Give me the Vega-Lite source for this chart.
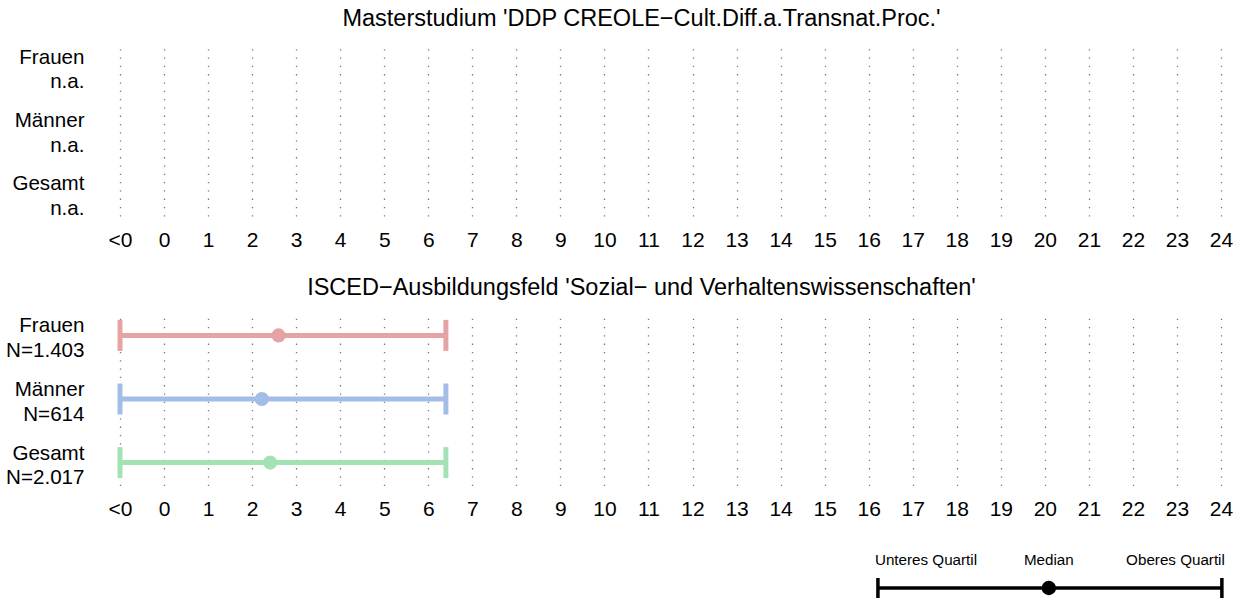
{
  "$schema": "https://vega.github.io/schema/vega-lite/v6.json",
  "background": "white",
  "padding": {"left": 5, "top": 7, "right": 0, "bottom": 0},
  "autosize": {"type": "pad"},
  "spacing": 25.5,
  "config": {
    "font": "Liberation Sans",
    "view": {"stroke": null},
    "title": {"fontSize": 23.5, "fontWeight": "normal", "color": "black", "anchor": "middle", "offset": 13.5, "dx": -29},
    "axisX": {
      "values": [-1, 0, 1, 2, 3, 4, 5, 6, 7, 8, 9, 10, 11, 12, 13, 14, 15, 16, 17, 18, 19, 20, 21, 22, 23, 24],
      "labelExpr": "datum.value < 0 ? '<0' : datum.label",
      "grid": true,
      "gridDash": [1.3, 7],
      "gridColor": "#777777",
      "gridWidth": 1.3,
      "domain": false,
      "ticks": false,
      "labelFontSize": 21,
      "labelColor": "black",
      "labelPadding": 13,
      "labelFlush": false,
      "labelOverlap": false,
      "title": null
    },
    "axisY": {
      "grid": false,
      "domain": false,
      "ticks": false,
      "labelFontSize": 20.6,
      "labelColor": "black",
      "labelPadding": 36,
      "labelLineHeight": 24.5,
      "labelOffset": -9.5,
      "labelExpr": "split(datum.label, '|')",
      "minExtent": 115,
      "maxExtent": 115,
      "title": null
    }
  },
  "datasets": {
    "rows": [
      {"panel": "master", "group": "Frauen", "ylabel": "Frauen|n.a.", "q1": null, "median": null, "q3": null},
      {"panel": "master", "group": "Männer", "ylabel": "Männer|n.a.", "q1": null, "median": null, "q3": null},
      {"panel": "master", "group": "Gesamt", "ylabel": "Gesamt|n.a.", "q1": null, "median": null, "q3": null},
      {"panel": "isced", "group": "Frauen", "ylabel": "Frauen|N=1.403", "q1": -1, "median": 2.6, "q3": 6.4},
      {"panel": "isced", "group": "Männer", "ylabel": "Männer|N=614", "q1": -1, "median": 2.22, "q3": 6.4},
      {"panel": "isced", "group": "Gesamt", "ylabel": "Gesamt|N=2.017", "q1": -1, "median": 2.41, "q3": 6.4}
    ],
    "legend": [
      {"lo": 16.21, "med": 20.09, "hi": 24.02, "lo_text": "Unteres Quartil", "med_text": "Median", "hi_text": "Oberes Quartil"}
    ]
  },
  "vconcat": [
    {
      "title": "Masterstudium 'DDP CREOLE−Cult.Diff.a.Transnat.Proc.'",
      "width": 1101,
      "height": 172,
      "data": {"name": "rows"},
      "transform": [{"filter": "datum.panel == 'master'"}],
      "encoding": {
        "y": {"field": "ylabel", "type": "nominal", "scale": {"type": "point", "padding": 0.36, "domain": ["Frauen|n.a.", "Männer|n.a.", "Gesamt|n.a."]}},
        "x": {"field": "q1", "type": "quantitative", "scale": {"domain": [-1, 24], "nice": false, "zero": false}},
        "x2": {"field": "q3"}
      },
      "layer": [
        {"mark": {"type": "rule", "strokeWidth": 5}}
      ]
    },
    {
      "title": "ISCED−Ausbildungsfeld 'Sozial− und Verhaltenswissenschaften'",
      "width": 1101,
      "height": 173,
      "data": {"name": "rows"},
      "transform": [{"filter": "datum.panel == 'isced'"}],
      "encoding": {
        "y": {"field": "ylabel", "type": "nominal", "scale": {"type": "point", "padding": 0.36, "domain": ["Frauen|N=1.403", "Männer|N=614", "Gesamt|N=2.017"]}},
        "color": {"field": "group", "type": "nominal", "legend": null, "scale": {"domain": ["Frauen", "Männer", "Gesamt"], "range": ["#E6A3A3", "#A2BEE6", "#A3E3B3"]}}
      },
      "layer": [
        {
          "mark": {"type": "rule", "strokeWidth": 5},
          "encoding": {
            "x": {"field": "q1", "type": "quantitative", "scale": {"domain": [-1, 24], "nice": false, "zero": false}},
            "x2": {"field": "q3"}
          }
        },
        {
          "mark": {"type": "tick", "thickness": 5, "size": 31, "opacity": 1},
          "encoding": {"x": {"field": "q1", "type": "quantitative"}}
        },
        {
          "mark": {"type": "tick", "thickness": 5, "size": 31, "opacity": 1},
          "encoding": {"x": {"field": "q3", "type": "quantitative"}}
        },
        {
          "mark": {"type": "point", "filled": true, "size": 200, "opacity": 1},
          "encoding": {"x": {"field": "median", "type": "quantitative"}}
        }
      ]
    },
    {
      "width": 1101,
      "height": 43,
      "data": {"name": "legend"},
      "encoding": {
        "y": {"datum": 0, "type": "quantitative", "scale": {"domain": [0, 1]}, "axis": {"labels": false, "grid": false, "domain": false, "ticks": false, "minExtent": 115, "maxExtent": 115}}
      },
      "layer": [
        {
          "mark": {"type": "rule", "color": "black", "strokeWidth": 3.5},
          "encoding": {
            "x": {"field": "lo", "type": "quantitative", "scale": {"domain": [-1, 24], "nice": false, "zero": false}, "axis": null},
            "x2": {"field": "hi"}
          }
        },
        {
          "mark": {"type": "tick", "color": "black", "thickness": 3.5, "size": 20, "opacity": 1},
          "encoding": {"x": {"field": "lo", "type": "quantitative"}}
        },
        {
          "mark": {"type": "tick", "color": "black", "thickness": 3.5, "size": 20, "opacity": 1},
          "encoding": {"x": {"field": "hi", "type": "quantitative"}}
        },
        {
          "mark": {"type": "point", "filled": true, "color": "black", "size": 210, "opacity": 1},
          "encoding": {"x": {"field": "med", "type": "quantitative"}}
        },
        {
          "mark": {"type": "text", "align": "left", "baseline": "middle", "dx": -3, "dy": -28, "fontSize": 15.2, "color": "black"},
          "encoding": {"x": {"field": "lo", "type": "quantitative"}, "text": {"field": "lo_text"}}
        },
        {
          "mark": {"type": "text", "align": "center", "baseline": "middle", "dy": -28, "fontSize": 15.2, "color": "black"},
          "encoding": {"x": {"field": "med", "type": "quantitative"}, "text": {"field": "med_text"}}
        },
        {
          "mark": {"type": "text", "align": "right", "baseline": "middle", "dx": 3, "dy": -28, "fontSize": 15.2, "color": "black"},
          "encoding": {"x": {"field": "hi", "type": "quantitative"}, "text": {"field": "hi_text"}}
        }
      ]
    }
  ]
}
